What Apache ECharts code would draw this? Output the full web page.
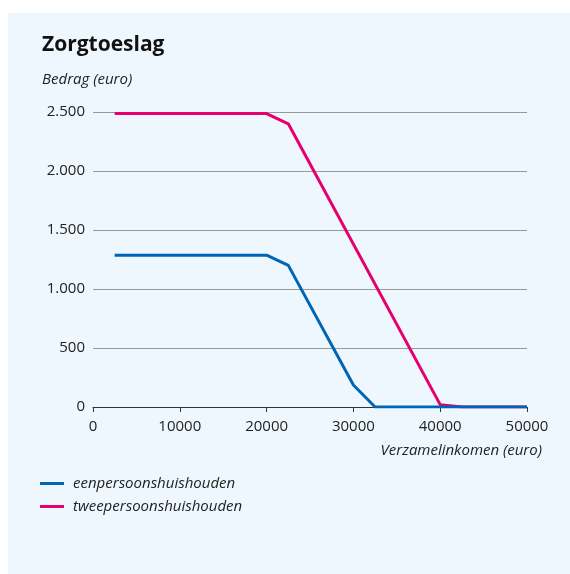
<!DOCTYPE html>
<html><head><meta charset="utf-8">
<script src="https://cdn.jsdelivr.net/npm/echarts@6/dist/echarts.min.js"></script>
<style>html,body{margin:0;padding:0;background:#fff}#c{width:570px;height:574px}</style>
</head><body><div id="c"></div>
<script>
const incomes1 = [2500, 20000, 22500, 30000, 32500, 50000];
const values1  = [1287, 1287, 1200, 186, 0, 0];
const incomes2 = [2500, 20000, 22500, 40000, 42500, 50000];
const values2  = [2487, 2487, 2400, 20, 0, 0];
const seriesNames = ['eenpersoonshuishouden', 'tweepersoonshuishouden'];
const xTicks = [0, 10000, 20000, 30000, 40000, 50000];
const yTicks = [0, 500, 1000, 1500, 2000, 2500];

const FONT = 'Open Sans';
const chart = echarts.init(document.getElementById('c'), null, {renderer: 'canvas'});
const fmt = v => String(v).replace(/\B(?=(\d{3})+(?!\d))/g, '.');
chart.setOption({
  animation: false,
  textStyle: {fontFamily: FONT},
  graphic: [
    {type: 'rect', shape: {x: 8, y: 13, width: 562, height: 561}, style: {fill: '#EEF7FE'}, z: -10},
    {type: 'text', left: 42, top: 35, style: {text: 'Zorgtoeslag', font: 'bold 21px "' + FONT + '"', fill: '#111'}},
    {type: 'text', left: 42, top: 72, style: {text: 'Bedrag (euro)', font: 'italic 15px "' + FONT + '"', fill: '#222'}},
    {type: 'text', right: 28, top: 443, style: {text: 'Verzamelinkomen (euro)', font: 'italic 15px "' + FONT + '"', fill: '#222'}}
  ],
  color: ['#0066B3', '#E5006D'],
  legend: {
    orient: 'vertical', left: 35, top: 471, itemGap: 8, itemWidth: 24, itemHeight: 3,
    icon: 'rect',
    textStyle: {fontFamily: FONT, fontStyle: 'italic', fontSize: 15, color: '#222', padding: [0, 0, 0, 4]},
    data: seriesNames
  },
  grid: {left: 93, right: 43, top: 112, bottom: 167},
  xAxis: {
    type: 'value', min: 0, max: 50000, interval: 10000,
    axisLine: {lineStyle: {color: '#333', width: 1}},
    axisTick: {show: true, length: 5, lineStyle: {color: '#333'}},
    axisLabel: {fontFamily: FONT, fontSize: 15, color: '#222', margin: 12, formatter: v => xTicks.includes(v) ? String(v) : ''},
    splitLine: {show: false}
  },
  yAxis: {
    type: 'value', min: 0, max: 2500, interval: 500,
    axisLine: {show: false}, axisTick: {show: false},
    axisLabel: {fontFamily: FONT, fontSize: 15, color: '#222', margin: 8, formatter: v => yTicks.includes(v) ? fmt(v) : ''},
    splitLine: {lineStyle: {color: '#999', width: 1}}
  },
  series: [
    {name: seriesNames[0], type: 'line', showSymbol: false, symbol: 'none', lineStyle: {width: 3},
     data: incomes1.map((x, i) => [x, values1[i]]), z: 3},
    {name: seriesNames[1], type: 'line', showSymbol: false, symbol: 'none', lineStyle: {width: 3},
     data: incomes2.map((x, i) => [x, values2[i]]), z: 2}
  ]
});
</script></body></html>
